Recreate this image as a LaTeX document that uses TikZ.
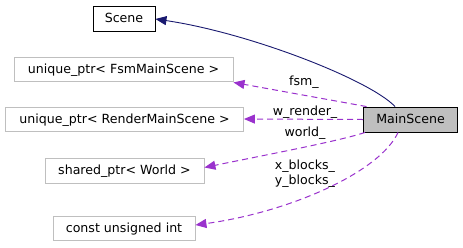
\documentclass[tikz,border=0pt]{standalone}
\usepackage{fontspec}
\setmainfont{DejaVu Sans}
\usetikzlibrary{arrows.meta,calc}
\definecolor{edgeblue}{HTML}{191970}
\definecolor{edgepurple}{HTML}{9A32CD}
\definecolor{boxgray}{HTML}{BFBFBF}
\begin{document}
\begin{tikzpicture}[x=1pt,y=-1pt,
  font=\fontsize{12.6}{14}\selectfont,
  cls/.style={draw=boxgray,line width=0.9pt,fill=white,inner sep=0pt,
    text height=10pt,text depth=1.6pt},
  clsmain/.style={cls,draw=black},
  focus/.style={cls,draw=black,fill=boxgray},
  inherit/.style={draw=edgeblue,line width=0.9pt,
    -{Triangle[length=11pt,width=9pt]}},
  member/.style={draw=edgepurple,line width=1pt,dash pattern=on 6pt off 4pt,
    -{Triangle[length=11pt,width=9pt,fill=edgepurple]}},
  lbl/.style={anchor=base,inner sep=0pt,text=black}]
\useasboundingbox (0,0) rectangle (463,247);
\fill[white] (0,0) rectangle (463,247);

% classes
\node[clsmain,minimum width=62pt,minimum height=25pt] (scene) at (124,18.5) {Scene};
\node[cls,minimum width=219pt,minimum height=24pt] (fsm) at (123.5,69) {unique\_ptr< FsmMainScene >};
\node[cls,minimum width=238pt,minimum height=24pt] (render) at (124.5,119) {unique\_ptr< RenderMainScene >};
\node[cls,minimum width=159pt,minimum height=25pt] (world) at (124.5,170.5) {shared\_ptr< World >};
\node[cls,minimum width=142pt,minimum height=24pt] (cuint) at (124,228) {const unsigned int};
\node[focus,minimum width=94pt,minimum height=25pt] (main) at (410.5,119.5) {MainScene};

% inheritance
\draw[inherit] ([xshift=-15.5pt]main.north) .. controls (370,80) and (250,33) .. ([yshift=-0.5pt]scene.east);

% members
\draw[member] ([xshift=-44pt]main.north) -- ([xshift=110pt,yshift=-1pt]fsm.south);
\node[lbl] (lfsm) at (304,85) {fsm\_};

\draw[member] (main.west) -- (render.east);
\node[lbl] (lrender) at (305,115) {w\_render\_};

\draw[member] ([xshift=-45.5pt]main.south) .. controls (340,141) and (260,156) .. ([yshift=3pt]world.east);
\node[lbl] (lworld) at (305,136) {world\_};

\draw[member] ([xshift=-12.5pt]main.south) .. controls (380,172) and (290,212) .. ([yshift=3pt]cuint.east);
\node[lbl] (lx) at (305,169) {x\_blocks\_};
\node[lbl] (ly) at (305,184) {y\_blocks\_};
\end{tikzpicture}
\end{document}
